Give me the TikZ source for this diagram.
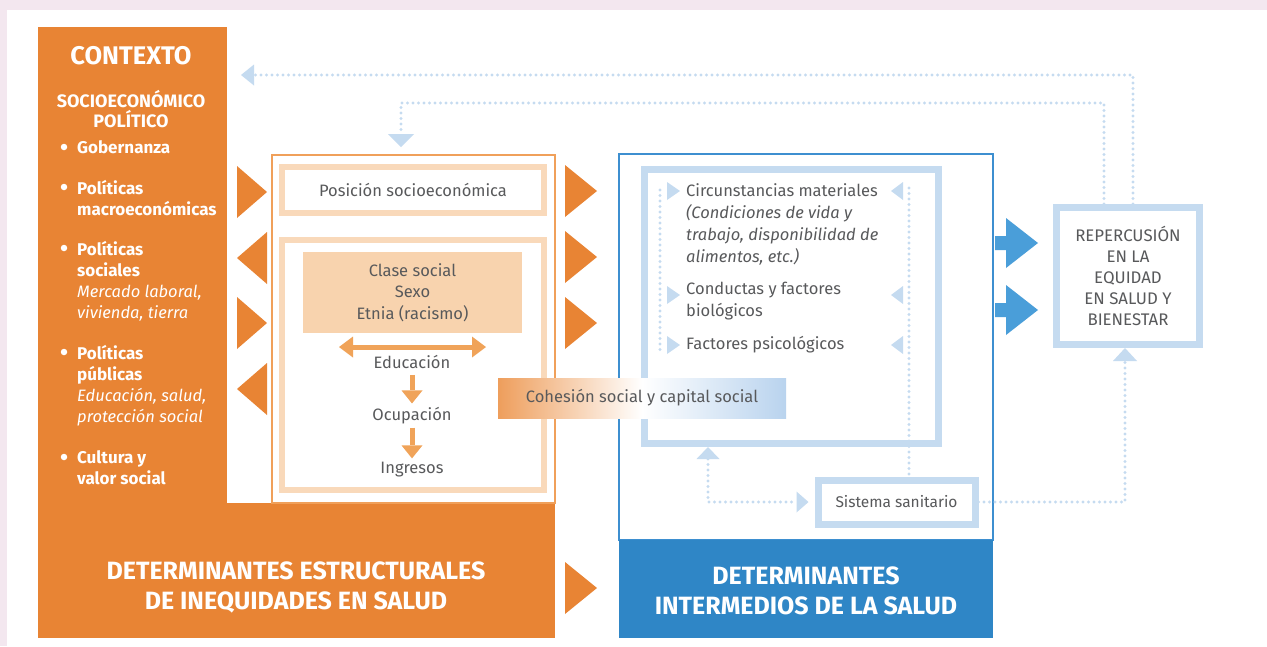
\documentclass[tikz,border=0pt]{standalone}
\usepackage{fontspec}
\setmainfont{Fira Sans}
\usetikzlibrary{positioning,arrows.meta}

\definecolor{naranja}{HTML}{E88434}
\definecolor{naranjaclaro}{HTML}{F9D9BA}
\definecolor{naranjafondo}{HTML}{F8D3AE}
\definecolor{naranjaflecha}{HTML}{F0A359}
\definecolor{naranjalinea}{HTML}{F0A05A}
\definecolor{naranjagrad}{HTML}{EE9E5C}
\definecolor{azul}{HTML}{2F86C6}
\definecolor{azullinea}{HTML}{3D8FD0}
\definecolor{azulclaro}{HTML}{C5DBF0}
\definecolor{azulgrad}{HTML}{B9D3EE}
\definecolor{azulflecha}{HTML}{4A9ED9}
\definecolor{gristexto}{HTML}{58595B}
\definecolor{fondo}{HTML}{F3E7EF}

\newcommand{\cursiva}{\mdseries\itshape\fontsize{16.5}{21}\selectfont}

\tikzset{
  cajanaranja/.style={draw=naranjaclaro, line width=6pt, fill=white, text=gristexto, align=center, inner sep=0pt},
  cajaazul/.style={draw=azulclaro, line width=7pt, fill=white, text=gristexto, align=center, inner sep=0pt},
  blanco/.style={text=white, font=\bfseries\fontsize{17}{21}\selectfont, align=left, inner sep=0pt, anchor=north west},
  gris/.style={text=gristexto, font=\fontsize{16.5}{21.5}\selectfont, inner sep=0pt},
  titulo/.style={text=white, font=\bfseries\fontsize{25}{30}\selectfont, align=center, inner sep=0pt},
  punteado/.style={draw=azulclaro, line width=3.3pt, line cap=round, dash pattern=on 0pt off 5.5pt},
  punta/.style={-{Triangle[width=#1, length=13pt, line width=0pt]}},
  flechanaranja/.style={draw=naranjaflecha, line width=5pt},
}

\begin{document}
\begin{tikzpicture}[x=1pt,y=-1pt]
  \useasboundingbox (0,0) rectangle (1267,646);
  \fill[fondo] (0,0) rectangle (1267,646);
  \fill[white] (7,10) rectangle (1267,646);

  % contexto y determinantes estructurales
  \fill[naranja] (38,27) rectangle (227,503);
  \fill[naranja] (38,503) rectangle (555,638);
  \draw[naranjalinea, line width=1.2pt] (272,155) rectangle (555,503);

  \node[blanco, anchor=center, font=\bfseries\fontsize{25.5}{28}\selectfont] (contexto) at (131,56) {CONTEXTO};
  \node[blanco, anchor=center, align=center, font=\bfseries\fontsize{18}{20}\selectfont] (socio) at (131,109) {SOCIOECONÓMICO\\POLÍTICO};
  \foreach \y in {147,187,248,352,457}
    \node[circle, fill=white, inner sep=0pt, minimum size=6.5pt] (vineta\y) at (64,\y) {};
  \node[blanco] (gobernanza) at (77,140) {Gobernanza};
  \node[blanco] (macro) at (77,180) {Políticas\\macroeconómicas};
  \node[blanco] (sociales) at (77,241) {Políticas\\sociales\\\cursiva Mercado laboral,\\\cursiva vivienda, tierra};
  \node[blanco] (publicas) at (77,345) {Políticas\\públicas\\\cursiva Educación, salud,\\\cursiva protección social};
  \node[blanco] (cultura) at (77,450) {Cultura y\\valor social};

  \foreach \y in {192,323}
    \fill[naranja] (237,\y-26) -- (267,\y) -- (237,\y+26) -- cycle;
  \foreach \y in {258,389}
    \fill[naranja] (267,\y-26) -- (237,\y) -- (267,\y+26) -- cycle;
  \foreach \y in {191,257,323,588}
    \fill[naranja] (565,\y-26) -- (597,\y) -- (565,\y+26) -- cycle;

  \node[cajanaranja, gris, anchor=center, minimum width=262, minimum height=46] (posicion) at (413,190) {Posición socioeconómica};
  \node[cajanaranja, minimum width=262, minimum height=250] (estratos) at (413,365) {};
  \node[fill=naranjafondo, gris, anchor=center, align=center, minimum width=219, minimum height=81] (clase) at (412.5,292.5) {Clase social\\Sexo\\Etnia (racismo)};
  \node[gris] (educacion) at (412,362) {Educación};
  \node[gris] (ocupacion) at (412,416) {Ocupación};
  \node[gris] (ingresos) at (412,470) {Ingresos};
  \draw[flechanaranja, {Triangle[width=21pt,length=14pt,line width=0pt]}-{Triangle[width=21pt,length=14pt,line width=0pt]}] (339,347) -- (486,347);
  \draw[flechanaranja, -{Triangle[width=21pt,length=13pt,line width=0pt]}, shorten <=6pt, shorten >=4pt] (educacion.south) -- (ocupacion.north);
  \draw[flechanaranja, -{Triangle[width=21pt,length=13pt,line width=0pt]}, shorten <=3pt, shorten >=4pt] (ocupacion.south) -- (ingresos.north);

  % determinantes intermedios
  \draw[azullinea, line width=1.2pt] (619,154) rectangle (993,540);
  \fill[azul] (619,540) rectangle (993,638);
  \node[cajaazul, minimum width=294, minimum height=274] (factores) at (791,306) {};
  \node[gris, align=left, anchor=north west, font=\fontsize{16.5}{22.3}\selectfont] (materiales) at (686,183) {Circunstancias materiales\\\itshape (Condiciones de vida y\\\itshape trabajo, disponibilidad de\\\itshape alimentos, etc.)};
  \node[gris, align=left, anchor=north west] (conductas) at (686,282) {Conductas y factores\\biológicos};
  \node[gris, anchor=north west] (psico) at (686,336) {Factores psicológicos};
  \draw[punteado] (660,190) -- (660,350);
  \draw[punteado] (909,188) -- (909,477);
  \foreach \y in {191,295,345} {
    \fill[azulclaro] (667,\y-9) -- (680,\y) -- (667,\y+9) -- cycle;
    \fill[azulclaro] (903,\y-9) -- (891,\y) -- (903,\y+9) -- cycle;
  }
  \node[left color=naranjagrad, right color=azulgrad, middle color=white, minimum width=288, minimum height=40, gris, anchor=center] (cohesion) at (642,398) {Cohesión social y capital social};
  \node[cajaazul, minimum width=157, minimum height=44, font=\fontsize{15.5}{19}\selectfont] (sistema) at (896.5,502) {Sistema sanitario};
  \node[titulo] (intermedios) at (806,591) {DETERMINANTES\\INTERMEDIOS DE LA SALUD};
  \node[titulo] (estructurales) at (296,587) {DETERMINANTES ESTRUCTURALES\\DE INEQUIDADES EN SALUD};

  % repercusion
  \foreach \y in {243,310}
    \fill[azulflecha] (995,\y-7) -- (1006,\y-7) -- (1006,\y-25) -- (1038,\y) -- (1006,\y+25) -- (1006,\y+7) -- (995,\y+7) -- cycle;
  \node[cajaazul, minimum width=143, minimum height=137, font=\fontsize{16.8}{21.2}\selectfont] (repercusion) at (1128,276) {REPERCUSIÓN\\EN LA\\EQUIDAD\\EN SALUD Y\\BIENESTAR};

  % retroalimentacion
  \coordinate (flechacontexto) at (241,75);
  \coordinate (retorno) at (401,103);
  \coordinate (flechaposicion) at (401,147);
  \coordinate (flechafactores) at (708,447);
  \draw[punteado, punta=21pt] ([xshift=5]repercusion.north) |- (flechacontexto);
  \draw[punteado, punta=26pt] ([xshift=-24]repercusion.north) |- (retorno) -- (flechaposicion);
  \draw[punteado, punta=24pt] (sistema.east) -| ([xshift=-3]repercusion.south);
  \draw[punteado, {Triangle[width=23pt,length=12pt,line width=0pt]}-{Triangle[width=21pt,length=12pt,line width=0pt]}] (flechafactores) |- ([xshift=-6]sistema.west);
\end{tikzpicture}
\end{document}
